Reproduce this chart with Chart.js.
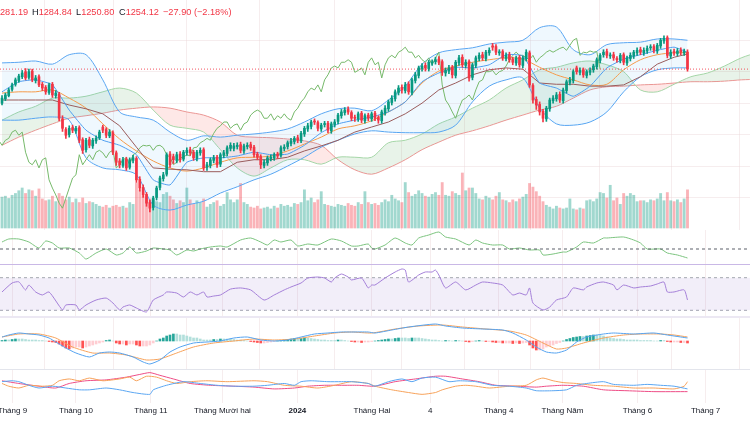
<!DOCTYPE html>
<html>
<head>
<meta charset="utf-8">
<script src="https://cdn.jsdelivr.net/npm/chart.js@4.4.1/dist/chart.umd.min.js"></script>
<style>
  body { margin: 0; background: #fff; }
  #wrap { position: relative; width: 750px; height: 422px; overflow: hidden; font-family: "Liberation Sans", Arial, sans-serif; }
  canvas { position: absolute; left: 0; }
  .sep { position: absolute; left: 0; width: 750px; }
  .hd { position: absolute; top: 7px; font-size: 9.2px; line-height: 10px; color: #f23645; white-space: nowrap; }
  .hd b { color: #131722; font-weight: normal; }
</style>
</head>
<body>
<div id="wrap">
  <canvas id="main" width="750" height="230" style="top:0"></canvas>
  <canvas id="mom" width="750" height="34" style="top:230px"></canvas>
  <canvas id="rsi" width="750" height="54" style="top:264px"></canvas>
  <canvas id="macd" width="750" height="51" style="top:318px"></canvas>
  <canvas id="dmi" width="750" height="53" style="top:369px"></canvas>
  <div class="sep" style="top:264px;height:1px;background:#c9b8e6"></div>
  <div class="sep" style="top:316px;height:2px;background:#ece8f3"></div>
  <div class="sep" style="top:369px;height:1px;background:#e3e5ec"></div>
  <span class="hd" style="left:0">281.19</span>
  <span class="hd" style="left:32px"><b>H</b>1284.84</span>
  <span class="hd" style="left:76px"><b>L</b>1250.80</span>
  <span class="hd" style="left:119px"><b>C</b>1254.12</span>
  <span class="hd" style="left:163px">−27.90 (−2.18%)</span>
</div>
<script>
// bars: one entry per trading day, index 0 = late Aug 2023
let opens = [
  1200,1207,1212,1222,1230,1236,1242,1250,1241,1251,
  1236,1242,1230,1225,1217,1230,1212,1214,1175,1158,
  1150,1161,1156,1161,1142,1126,1142,1132,1140,1145,
  1162,1158,1148,1153,1121,1108,1101,1111,1098,1109,
  1112,1079,1066,1055,1042,1034,1050,1066,1080,1087,
  1119,1115,1109,1119,1111,1121,1126,1122,1112,1121,
  1126,1098,1101,1109,1114,1103,1117,1120,1128,1128,
  1131,1134,1124,1131,1134,1130,1119,1115,1101,1105,
  1112,1113,1119,1117,1128,1131,1136,1139,1145,1140,
  1151,1159,1163,1171,1169,1159,1166,1168,1156,1166,
  1171,1180,1185,1190,1185,1177,1175,1184,1172,1181,
  1175,1184,1177,1172,1185,1191,1201,1207,1217,1225,
  1220,1230,1217,1236,1244,1255,1260,1255,1264,1266,
  1270,1266,1248,1251,1257,1244,1264,1273,1260,1266,
  1241,1260,1271,1277,1271,1280,1291,1290,1280,1282,
  1271,1277,1270,1264,1273,1260,1271,1280,1228,1206,
  1198,1187,1175,1191,1204,1207,1214,1204,1220,1233,
  1236,1256,1249,1253,1244,1249,1253,1258,1268,1277,
  1282,1275,1277,1271,1268,1277,1264,1271,1275,1280,
  1285,1280,1283,1288,1290,1283,1291,1299,1304,1275,
  1282,1279,1284,1280,1281.19
];
let highs = [
  1212,1216,1224,1232,1240,1246,1252,1255,1254,1254,
  1244,1245,1233,1228,1232,1233,1220,1217,1180,1161,
  1164,1165,1163,1164,1145,1144,1146,1144,1148,1157,
  1165,1161,1158,1156,1124,1112,1114,1114,1113,1117,
  1115,1083,1070,1058,1046,1052,1068,1084,1090,1121,
  1123,1119,1122,1123,1125,1129,1130,1125,1125,1129,
  1129,1106,1113,1117,1117,1121,1125,1132,1137,1136,
  1137,1138,1135,1137,1138,1133,1122,1118,1110,1116,
  1118,1121,1122,1132,1134,1140,1144,1147,1149,1155,
  1163,1168,1173,1175,1172,1168,1171,1171,1170,1174,
  1184,1190,1193,1194,1188,1181,1186,1187,1183,1184,
  1186,1187,1180,1189,1196,1205,1212,1221,1228,1229,
  1233,1234,1240,1249,1259,1263,1264,1268,1269,1273,
  1274,1269,1256,1260,1260,1268,1276,1277,1269,1269,
  1264,1275,1280,1281,1284,1288,1295,1293,1285,1285,
  1280,1281,1273,1275,1276,1275,1285,1283,1231,1210,
  1202,1190,1195,1208,1212,1217,1218,1224,1237,1241,
  1253,1259,1256,1256,1253,1256,1262,1272,1279,1285,
  1286,1280,1281,1274,1279,1280,1275,1280,1284,1288,
  1289,1288,1291,1293,1293,1295,1303,1307,1307,1285,
  1286,1287,1288,1286,1284.84
];
let lows = [
  1197,1204,1210,1219,1227,1233,1239,1237,1238,1234,
  1232,1226,1220,1214,1214,1209,1208,1172,1155,1144,
  1146,1153,1152,1137,1120,1122,1129,1128,1136,1142,
  1153,1145,1145,1118,1101,1097,1098,1093,1095,1105,
  1074,1060,1050,1036,1027,1030,1046,1062,1076,1084,
  1098,1104,1105,1106,1108,1117,1117,1109,1108,1117,
  1093,1093,1097,1105,1098,1099,1113,1116,1124,1124,
  1127,1121,1120,1127,1125,1114,1110,1096,1097,1101,
  1108,1109,1112,1114,1124,1127,1132,1135,1137,1137,
  1147,1155,1159,1166,1156,1155,1162,1153,1152,1162,
  1167,1176,1181,1182,1172,1171,1171,1169,1168,1172,
  1171,1172,1168,1168,1181,1187,1197,1203,1213,1216,
  1216,1214,1213,1232,1240,1251,1251,1251,1260,1262,
  1261,1244,1243,1247,1240,1240,1260,1257,1256,1235,
  1237,1256,1267,1268,1267,1276,1284,1277,1276,1268,
  1267,1265,1261,1260,1257,1256,1267,1225,1200,1190,
  1181,1170,1171,1187,1200,1203,1201,1200,1216,1229,
  1232,1246,1245,1241,1240,1245,1249,1254,1264,1273,
  1272,1271,1268,1265,1264,1261,1260,1267,1271,1276,
  1277,1276,1279,1284,1280,1279,1287,1295,1272,1271,
  1276,1275,1277,1276,1250.80
];
let closes = [
  1208,1213,1221,1229,1237,1243,1248,1240,1250,1237,
  1240,1229,1224,1218,1229,1213,1216,1176,1160,1149,
  1160,1157,1160,1141,1125,1141,1133,1141,1144,1154,
  1157,1149,1154,1122,1106,1102,1110,1097,1110,1113,
  1078,1065,1054,1041,1033,1049,1065,1081,1086,1118,
  1102,1110,1118,1110,1122,1125,1121,1113,1122,1125,
  1097,1102,1110,1113,1102,1118,1121,1129,1133,1132,
  1133,1125,1132,1133,1129,1118,1114,1102,1106,1113,
  1114,1118,1116,1129,1130,1137,1140,1144,1141,1152,
  1160,1164,1170,1170,1160,1165,1167,1157,1167,1170,
  1181,1186,1189,1186,1176,1176,1183,1173,1180,1176,
  1183,1176,1173,1186,1192,1202,1208,1218,1224,1221,
  1229,1218,1237,1245,1256,1259,1256,1265,1265,1269,
  1265,1249,1252,1256,1245,1265,1272,1261,1265,1240,
  1261,1272,1276,1272,1281,1284,1289,1281,1281,1272,
  1276,1269,1265,1272,1261,1272,1281,1229,1205,1197,
  1186,1176,1192,1205,1208,1213,1205,1221,1234,1237,
  1250,1250,1252,1245,1250,1252,1259,1269,1276,1281,
  1276,1276,1272,1269,1276,1265,1272,1276,1281,1284,
  1281,1284,1287,1289,1284,1292,1300,1303,1276,1281,
  1280,1283,1281,1282,1254.12
];
let volumes = [
  680,700,650,720,760,820,880,760,840,820,
  700,860,640,600,620,700,580,760,700,620,
  680,560,640,560,660,540,580,560,520,480,
  460,500,440,480,500,460,480,440,560,520,
  990,840,700,680,640,620,580,560,740,780,
  700,620,540,600,560,880,620,520,600,560,
  640,460,520,560,600,480,520,780,620,560,
  620,980,560,520,460,440,480,420,440,460,
  420,480,440,520,480,500,460,540,520,560,
  840,600,660,560,620,800,520,500,480,460,
  520,500,480,540,500,480,560,520,800,560,
  520,540,500,560,620,580,720,640,600,560,
  1000,780,700,740,820,760,700,680,740,780,
  720,1000,720,700,800,760,720,1210,820,880,
  880,760,640,620,700,660,620,700,780,620,
  600,560,620,580,640,680,740,980,900,800,
  700,580,500,460,420,480,440,420,440,640,
  420,400,440,420,600,620,580,640,780,760,
  660,940,600,660,520,760,700,760,720,580,
  600,600,560,620,600,640,760,600,780,600,
  580,620,560,640,840
];
let lastClose = 1254.12;

// overlay lines read every 5 bars
const LINE_STEP = 5;
let bbUpper = [1264,1265,1267,1262,1277,1277,1237,1186,1178,1173,1154,1141,1148,1146,1149,1151,1154,1159,1170,1183,1191,1192,1188,1205,1227,1262,1280,1285,1288,1294,1297,1300,1320,1321,1285,1277,1293,1296,1297,1302,1302,1300];
let bbBasis = [1216,1218,1218,1221,1208,1192,1167,1143,1124,1108,1097,1092,1097,1106,1113,1114,1116,1124,1135,1146,1159,1164,1172,1186,1202,1232,1251,1259,1265,1269,1272,1270,1257,1245,1237,1229,1230,1253,1269,1277,1280,1280];
let bbLower = [1173,1173,1176,1178,1173,1113,1097,1094,1086,1038,1030,1038,1044,1057,1067,1078,1087,1100,1114,1130,1141,1151,1156,1154,1153,1153,1154,1165,1202,1227,1237,1240,1192,1167,1165,1170,1186,1218,1242,1253,1256,1256];
let tenkan = [1218,1234,1237,1229,1189,1157,1141,1133,1118,1078,1070,1106,1113,1113,1116,1122,1118,1119,1133,1153,1167,1173,1178,1186,1202,1234,1248,1257,1256,1261,1277,1275,1232,1224,1211,1227,1256,1270,1277,1284,1289,1281];
let kijun = [1205,1205,1205,1205,1197,1191,1183,1164,1130,1097,1095,1094,1091,1091,1106,1110,1110,1114,1124,1132,1141,1154,1162,1170,1183,1200,1221,1232,1245,1253,1256,1254,1232,1230,1230,1227,1227,1229,1242,1262,1273,1278];
let spanA = [1173,1186,1195,1208,1208,1211,1218,1224,1216,1189,1165,1160,1154,1126,1097,1084,1097,1110,1110,1103,1114,1114,1114,1137,1141,1151,1167,1178,1192,1205,1224,1237,1253,1257,1264,1267,1261,1250,1221,1218,1230,1242,1248,1259,1272,1281];
let spanB = [1133,1146,1157,1167,1176,1180,1184,1189,1192,1194,1192,1186,1181,1170,1149,1146,1145,1143,1140,1133,1110,1094,1087,1097,1110,1126,1138,1149,1156,1164,1173,1181,1189,1195,1208,1221,1226,1227,1229,1230,1232,1234,1234,1235,1237,1238];
let chikouShift = 26;

// lower panes: [bar index, value]
let momPts = [[0,64],[2,70],[5,70],[8,64],[11,52],[13,66],[15,62],[17,52],[20,52],[23,42],[25,30],[28,42],[31,50],[34,38],[36,42],[38,54],[40,42],[43,46],[45,52],[48,50],[50,48],[52,38],[55,48],[57,46],[59,50],[62,54],[65,56],[67,54],[71,68],[74,72],[77,64],[79,58],[81,68],[83,64],[86,68],[88,56],[91,60],[94,58],[98,70],[101,66],[104,56],[106,56],[109,60],[110,52],[111,50],[114,58],[117,72],[120,62],[122,58],[124,72],[127,78],[130,84],[132,74],[135,70],[139,58],[141,68],[143,62],[146,58],[149,58],[151,50],[154,52],[157,48],[160,48],[161,38],[164,40],[167,44],[168,44],[171,54],[173,64],[176,62],[179,72],[180,72],[185,74],[188,68],[190,62],[192,50],[196,50],[198,42],[201,38],[204,32]];
let rsiPts = [[0,52.5],[3,63.5],[5,64.9],[7,54.9],[8,61],[10,52.5],[12,48.8],[14,52.5],[18,30.4],[19,36.5],[22,36.5],[23,30.4],[25,36.5],[28,42.6],[31,45],[33,39],[35,30.4],[36,34],[38,36.5],[40,32.8],[43,28],[45,42.6],[48,48.8],[49,52.5],[52,51.2],[54,46.3],[56,52.5],[58,48.8],[60,52.5],[61,46.3],[63,47.5],[65,48.8],[68,56],[71,57.4],[74,55],[78,42.6],[81,48.8],[84,55],[86,58.6],[89,63.5],[91,69.6],[94,70.8],[96,69.6],[98,64.7],[99,69.6],[101,74.5],[103,70.8],[104,67.2],[107,69.6],[109,57.4],[110,61],[111,61],[114,69.6],[117,77],[119,80.7],[120,79.4],[121,64.7],[124,73.3],[126,77],[128,77],[129,79.4],[130,73.3],[132,57.4],[135,64.7],[138,55],[141,61],[143,64.7],[146,63.5],[149,61],[152,48.8],[154,51.2],[156,48.8],[157,57.4],[158,39],[161,30.4],[163,34],[165,42.6],[168,46.3],[170,57.4],[173,55],[174,58.6],[177,63.5],[179,64.7],[182,61],[183,55],[185,61],[188,57.4],[190,58.6],[193,59.8],[195,62.3],[197,64.7],[198,52.5],[200,52.5],[203,55],[204,42.6]];
let macdPts = [[0,4],[2,6],[5,8],[8,7],[11,6],[14,3],[16,-1],[19,-7],[22,-12],[26,-16],[29,-12],[32,-11],[35,-12],[39,-16],[42,-21],[44,-23],[47,-19],[50,-11],[53,-6],[57,-2],[61,-1],[65,0],[69,3],[73,4],[77,1],[81,0],[85,1],[89,4],[93,7],[97,8],[101,9],[104,9],[109,9],[111,8],[116,11],[121,14],[129,17],[132,15],[137,13],[143,12],[149,11],[152,8],[156,1],[159,-6],[162,-11],[165,-12],[168,-9],[171,-1],[174,4],[179,7],[182,8],[188,7],[194,8],[198,6],[202,4],[204,3]];
let signalPts = [[0,4],[5,7],[11,7],[16,3],[21,-6],[27,-12],[32,-12],[37,-14],[43,-19],[47,-18],[52,-12],[57,-6],[63,-2],[69,0],[75,2],[81,1],[87,2],[93,5],[99,8],[104,9],[110,8],[117,12],[124,15],[131,16],[137,14],[144,12],[151,10],[156,6],[161,-2],[165,-8],[168,-7],[173,-2],[179,3],[185,6],[190,7],[196,7],[200,6],[204,4]];
let macdHist = [
  0.5,1,1,1.5,2,2,2,1.5,1,1,
  1,0.5,0.5,0,-0.5,-1,-1.5,-3,-5,-7,
  -8,-7,-6,-6,-7,-6,-5,-4,-3,-2,
  -1,0.5,1,0,-2,-3,-3,-4,-3,-3,
  -4,-5,-5,-5,-4,-2,0,2,3,5,
  6,7,7,6,6,5,4,3,3,2,
  1,1,1,1.5,1.5,2,2,2,2,1.5,
  1,1,0.5,0,-0.5,-1,-1.5,-2,-2,-1.5,
  -1,-0.5,0,0.5,1,1.5,2,2.5,2,2.5,
  3,3,2.5,2,1.5,1,1,0.5,0.5,0.5,
  1,1,0.5,0,-0.5,-1,-1,-1.5,-1,-1,
  -0.5,0,0.5,1,1.5,2,2,2.5,3,3,
  3,2.5,3,3,3,2.5,2,1.5,1,1,
  0.5,0,0.5,0.5,0,0.5,0.5,0,-0.5,-1,
  -0.5,0,0.5,0,-0.5,-0.5,-1,-1.5,-1.5,-2,
  -2,-2,-2.5,-2,-2.5,-2,-1.5,-4,-7,-9,
  -9,-8,-6,-5,-4,-2.5,-1.5,0,1.5,2.5,
  3.5,4,4.5,4.5,5,5.5,6,6,5.5,5,
  4,3,2.5,2,2,1.5,1,1,1,1,
  0.5,0.5,0.5,0.5,0,0,0.5,0.5,-0.5,-1,
  -1,-1,-1.5,-1.5,-2
];
let plusDI = [[0,19],[3,20],[5,19],[8,15],[11,12],[15,14],[19,12],[23,10],[26,10],[31,12],[35,10],[39,7],[44,5],[45,10],[48,14],[50,16],[54,19],[59,17],[64,15],[69,14],[75,14],[79,15],[84,17],[87,15],[89,19],[92,20],[97,19],[101,19],[104,19],[109,17],[111,14],[115,19],[119,22],[122,19],[125,23],[129,24],[133,19],[136,20],[141,19],[146,15],[151,14],[156,12],[159,9],[164,9],[168,10],[171,15],[174,17],[179,19],[182,16],[188,15],[192,16],[196,15],[200,14],[204,11]];
let minusDI = [[0,17],[2,14],[5,12],[8,15],[12,14],[15,15],[17,20],[20,22],[23,20],[26,23],[30,20],[35,22],[38,24],[40,20],[43,25],[46,24],[49,20],[52,17],[56,19],[61,20],[67,19],[75,20],[79,19],[84,15],[89,14],[94,12],[99,15],[104,19],[109,17],[111,14],[116,10],[121,7],[125,5],[129,7],[131,10],[135,14],[138,15],[141,14],[145,12],[151,14],[156,15],[159,21],[161,23],[164,20],[167,18],[171,17],[176,15],[182,14],[188,12],[194,12],[200,11],[203,14],[204,19]];
let adx = [[0,20],[5,17],[11,14],[16,12],[20,17],[25,20],[31,21],[37,24],[41,27],[44,29],[47,26],[51,22],[56,17],[62,15],[69,14],[75,13],[81,11],[87,12],[91,14],[96,15],[101,15],[106,15],[111,14],[117,19],[123,22],[129,25],[132,25],[137,22],[142,19],[147,15],[153,14],[159,13],[162,14],[167,15],[173,14],[179,10],[186,9],[194,8],[204,8]];

// x axis labels
let tickIdx = [3.1, 22, 44.3, 65.6, 87.9, 110.1, 127.4, 147.8, 166.8, 189.1, 209.4];
let tickLabels = ['Tháng 9', 'Tháng 10', 'Tháng 11', 'Tháng Mười hai', '2024', 'Tháng Hai', '4', 'Tháng 4', 'Tháng Năm', 'Tháng 6', 'Tháng 7'];
let priceGrid = [1050, 1100, 1150, 1200, 1250, 1300];

const X_MIN = -0.6;
const X_MAX = 222.6;
const LAST_BAR = 204;
const upColor = '#089981';
const downColor = '#f23645';
const gridColor = 'rgba(236, 214, 218, 0.45)';

Chart.defaults.font.family = '"Liberation Sans", Arial, sans-serif';

function stepPoints(arr) {
  let pts = [];
  for (let k = 0; k < arr.length; k++) {
    let i = k * LINE_STEP;
    if (arr.length <= 42 && i > LAST_BAR) i = LAST_BAR;
    pts.push({ x: i, y: arr[k] });
  }
  return pts;
}

function pairPoints(arr) {
  return arr.map(p => ({ x: p[0], y: p[1] }));
}

function flatLine(v) {
  return [{ x: X_MIN, y: v }, { x: X_MAX, y: v }];
}

function line(data, color, extra) {
  return Object.assign({
    type: 'line', data: data, borderColor: color, borderWidth: 1,
    pointRadius: 0, fill: false, tension: 0.2, order: 3
  }, extra || {});
}

function xAxis(showLabels) {
  let axis = {
    type: 'linear', min: X_MIN, max: X_MAX, offset: false,
    afterBuildTicks: s => { s.ticks = tickIdx.map(v => ({ value: v })); },
    ticks: {
      display: showLabels, autoSkip: false, maxRotation: 0, padding: 3, color: '#131722',
      font: ctx => ({ size: 8, weight: tickLabels[ctx.index] === '2024' ? 'bold' : 'normal' }),
      callback: (v, i) => tickLabels[i]
    },
    grid: { color: gridColor, drawTicks: false },
    border: { display: false },
    afterFit: s => { s.paddingLeft = 0; s.paddingRight = 0; if (!showLabels) s.height = 0; }
  };
  return axis;
}

function hiddenY(min, max) {
  return { display: false, min: min, max: max };
}

function baseOptions(scales, padBottom) {
  return {
    responsive: false, animation: false, devicePixelRatio: 1, events: [],
    layout: { padding: { left: 0, right: 0, top: 0, bottom: padBottom || 0 } },
    plugins: { legend: { display: false }, tooltip: { enabled: false } },
    scales: scales
  };
}

// main pane
let candleColors = closes.map((c, i) => c >= opens[i] ? upColor : downColor);
let volColors = closes.map((c, i) => c >= opens[i] ? 'rgba(8,153,129,0.38)' : 'rgba(242,54,69,0.38)');

new Chart(document.getElementById('main'), {
  type: 'bar',
  data: {
    datasets: [
      { type: 'bar', data: closes.map((c, i) => ({ x: i, y: [opens[i], c] })), backgroundColor: candleColors, barThickness: 2, minBarLength: 1, grouped: false, order: 0 },
      { type: 'bar', data: highs.map((h, i) => ({ x: i, y: [lows[i], h] })), backgroundColor: candleColors, barThickness: 1, grouped: false, order: 1 },
      line(flatLine(lastClose), 'rgba(242,54,69,0.85)', { borderDash: [1, 2], tension: 0, order: 2 }),
      line(stepPoints(tenkan), '#4f9ef0', { tension: 0.15 }),
      line(stepPoints(kijun), '#9a5c5c', { tension: 0 }),
      line(stepPoints(bbBasis), '#f59a4a', { tension: 0.3 }),
      line(closes.map((c, i) => ({ x: i - chikouShift, y: c })), '#76b96a', { tension: 0 }),
      line(stepPoints(bbUpper), '#5aa6f2', { tension: 0.3, order: 4, fill: { target: '+1', above: 'rgba(33,150,243,0.07)', below: 'rgba(33,150,243,0.07)' } }),
      line(stepPoints(bbLower), '#5aa6f2', { tension: 0.3, order: 4 }),
      line(stepPoints(spanA), '#a5d6a7', { tension: 0.3, order: 6, fill: { target: '+1', above: 'rgba(67,160,71,0.12)', below: 'rgba(244,67,54,0.12)' } }),
      line(stepPoints(spanB), '#ef9a9a', { tension: 0.3, order: 6 }),
      { type: 'bar', yAxisID: 'yv', data: volumes.map((v, i) => ({ x: i, y: v })), backgroundColor: volColors, barThickness: 2.2, grouped: false, order: 7 }
    ]
  },
  options: baseOptions({
    x: xAxis(false),
    y: {
      min: 998.3, max: 1364,
      afterBuildTicks: s => { s.ticks = priceGrid.map(v => ({ value: v })); },
      ticks: { display: false }, grid: { color: gridColor, drawTicks: false }, border: { display: false },
      afterFit: s => { s.width = 0; }
    },
    yv: hiddenY(-44, 5016)
  })
});

// oscillator pane
new Chart(document.getElementById('mom'), {
  type: 'line',
  data: {
    datasets: [
      line(flatLine(50), '#5d606b', { borderDash: [3, 3], tension: 0 }),
      line(pairPoints(momPts), '#7cc47f')
    ]
  },
  options: baseOptions({ x: xAxis(false), y: hiddenY(20, 88) })
});

// RSI pane
new Chart(document.getElementById('rsi'), {
  type: 'line',
  data: {
    datasets: [
      line(pairPoints(rsiPts), '#a47fd8', { order: 1 }),
      line(flatLine(70), '#a3a6af', { borderDash: [3, 3], tension: 0, order: 2, fill: { target: '+1', above: 'rgba(126,87,194,0.1)', below: 'rgba(126,87,194,0.1)' } }),
      line(flatLine(30), '#a3a6af', { borderDash: [3, 3], tension: 0, order: 2 })
    ]
  },
  options: baseOptions({ x: xAxis(false), y: hiddenY(20.55, 86.8) })
});

// MACD pane
let histColors = macdHist.map((h, i) => {
  let prev = i > 0 ? macdHist[i - 1] : 0;
  if (h >= 0) return h > prev ? '#26a69a' : '#b2dfdb';
  return h < prev ? '#ff5252' : '#ffcdd2';
});

new Chart(document.getElementById('macd'), {
  type: 'bar',
  data: {
    datasets: [
      line(pairPoints(macdPts), '#55a3f0', { order: 1 }),
      line(pairPoints(signalPts), '#f7a25a', { order: 2 }),
      { type: 'bar', data: macdHist.map((h, i) => ({ x: i, y: h })), backgroundColor: histColors, barThickness: 2, grouped: false, order: 3 }
    ]
  },
  options: baseOptions({ x: xAxis(false), y: hiddenY(-28, 23) })
});

// DMI pane with the time axis
new Chart(document.getElementById('dmi'), {
  type: 'line',
  data: {
    datasets: [
      line(pairPoints(plusDI), '#5aa6f2'),
      line(pairPoints(minusDI), '#f7a25a'),
      line(pairPoints(adx), '#ee4d86')
    ]
  },
  options: baseOptions({ x: xAxis(true), y: hiddenY(-5, 33) }, 3)
});
</script>
</body>
</html>
